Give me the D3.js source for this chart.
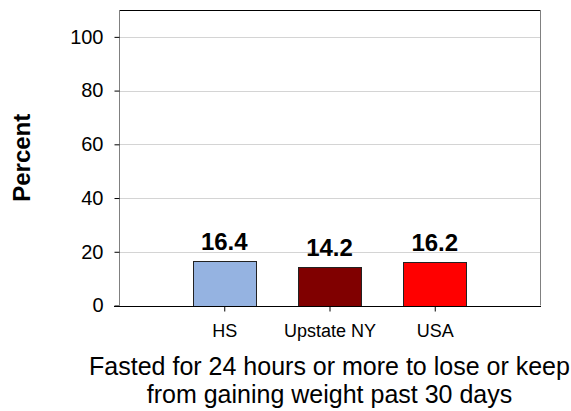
<!DOCTYPE html>
<html>
<head>
<meta charset="utf-8">
<script src="https://cdn.jsdelivr.net/npm/d3@7"></script>
<style>
  html, body { margin: 0; padding: 0; background: #fff; }
  svg { display: block; font-family: "Liberation Sans", Arial, sans-serif; }
</style>
</head>
<body>
<svg id="chart" width="571" height="411"></svg>
<script>
const categories = ["HS", "Upstate NY", "USA"];
const values = [16.4, 14.2, 16.2];
const colors = ["#95b3e1", "#800000", "#ff0000"];
const yTicks = [0, 20, 40, 60, 80, 100];
const yLabel = "Percent";
const titleLines = ["Fasted for 24 hours or more to lose or keep", "from gaining weight past 30 days"];

const svg = d3.select("#chart");
const L = 119, R = 540, T = 10, B = 305.5;

const x = d3.scalePoint().domain(categories).range([L, R]).padding(1);
const y = d3.scaleLinear().domain([0, 110]).range([B, T]);
const barW = 63;

// gridlines
svg.append("g").selectAll("line").data(yTicks.filter(d => d > 0)).join("line")
  .attr("x1", L).attr("x2", R)
  .attr("y1", d => Math.round(y(d)) + 0.5).attr("y2", d => Math.round(y(d)) + 0.5)
  .attr("stroke", "#d4d4d4").attr("stroke-width", 1);

// frame top and right
svg.append("line").attr("x1", L).attr("x2", R).attr("y1", T + 0.5).attr("y2", T + 0.5)
  .attr("stroke", "#000");
svg.append("line").attr("x1", R + 0.5).attr("x2", R + 0.5).attr("y1", T).attr("y2", B)
  .attr("stroke", "#808080");

// bars
svg.append("g").selectAll("rect").data(values).join("rect")
  .attr("x", (d, i) => Math.round(x(categories[i]) - barW / 2) + 0.5)
  .attr("y", d => Math.round(y(d)) + 0.5)
  .attr("width", barW)
  .attr("height", d => Math.round(B) - Math.round(y(d)))
  .attr("fill", (d, i) => colors[i])
  .attr("stroke", "#222").attr("stroke-width", 1);

// bar labels
svg.append("g").selectAll("text").data(values).join("text")
  .attr("x", (d, i) => x(categories[i]))
  .attr("y", d => y(d) - 11)
  .attr("text-anchor", "middle")
  .attr("font-size", 24).attr("font-weight", "bold").attr("fill", "#000")
  .text(d => d.toFixed(1));

// y axis
const yAxis = d3.axisLeft(y).tickValues(yTicks).tickSize(5).tickPadding(11).tickSizeOuter(0);
const gy = svg.append("g").attr("transform", `translate(${L + 0.5},0)`).call(yAxis);
gy.select(".domain").attr("stroke", "#808080").attr("d", `M0,${T}V${B}`);
gy.selectAll(".tick line").attr("stroke", "#000");
gy.selectAll(".tick text").attr("font-size", 20).attr("fill", "#000")
  .attr("font-family", "Liberation Sans, Arial, sans-serif");

// x axis
const xAxis = d3.axisBottom(x).tickSize(5).tickPadding(13).tickSizeOuter(0);
const gx = svg.append("g").attr("transform", `translate(0,${Math.round(B) + 0.5})`).call(xAxis);
gx.select(".domain").attr("stroke", "#000").attr("d", `M${L - 5},0H${R + 1}`);
gx.selectAll(".tick line").attr("stroke", "#000");
gx.selectAll(".tick text").attr("font-size", 18).attr("fill", "#000")
  .attr("font-family", "Liberation Sans, Arial, sans-serif");

// y label
svg.append("text")
  .attr("transform", `translate(30,${(T + B) / 2}) rotate(-90)`)
  .attr("text-anchor", "middle")
  .attr("font-size", 24).attr("font-weight", "bold").attr("fill", "#000")
  .text(yLabel);

// title (x axis label)
svg.append("g").selectAll("text").data(titleLines).join("text")
  .attr("x", (L + R) / 2)
  .attr("y", (d, i) => 375 + i * 28)
  .attr("text-anchor", "middle")
  .attr("font-size", 25).attr("fill", "#000")
  .text(d => d);
</script>
</body>
</html>
